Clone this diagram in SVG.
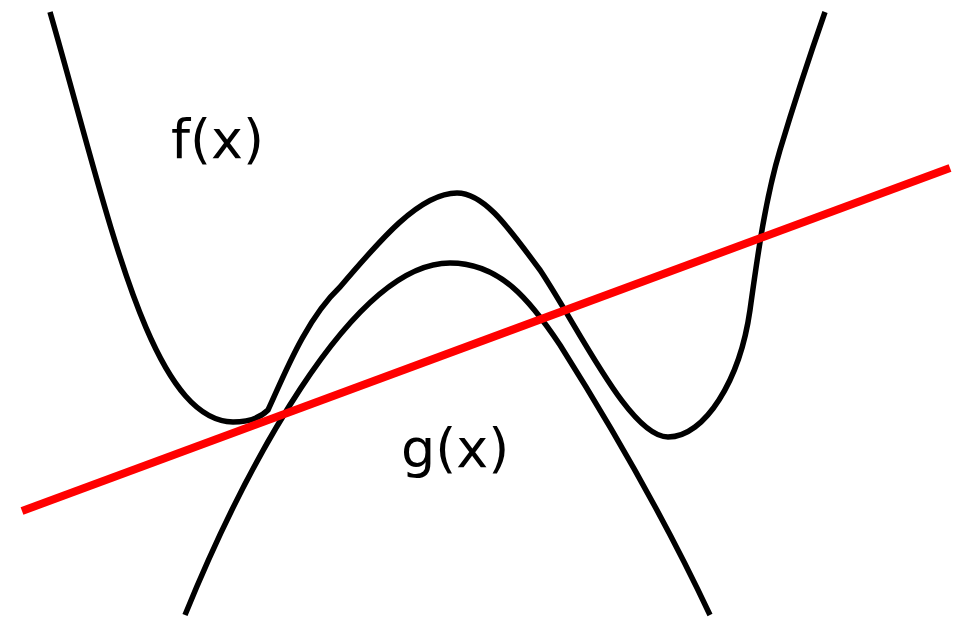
<svg xmlns="http://www.w3.org/2000/svg" width="956" height="619" viewBox="0 0 956 619">
<style>
.curve{fill:none;stroke:#000;stroke-width:5.5;stroke-linejoin:round}
.line{fill:none;stroke:#f00;stroke-width:8}
.lbl{font-family:"DejaVu Sans",Verdana,sans-serif;font-size:54px;fill:#000}
</style>
<rect width="956" height="619" fill="#fff"/>
<g id="f">
<path class="curve" d="M50,12 C110,220 150,420 233,422 C250,422 260,418 268,410 C283,378 305,320 340,287 C380,240 420,193 457,193 C485,193 510,230 540,270 C580,330 630,437 668,437 C705,437 740,380 750,310 C757,260 765,200 780,150 C792,110 810,55 825,12"/>
</g>
<g id="g">
<path class="curve" d="M185,615 C240,480 350,263 450,263 C500,263 530,300 560,345 C620,440 670,530 710,615"/>
</g>
<g id="connectors">
<line class="line" x1="22" y1="511" x2="950" y2="168"/>
</g>
<g id="labels">
<text class="lbl" x="171" y="158">f(x)</text>
<text class="lbl" x="401" y="467">g(x)</text>
</g>
</svg>
